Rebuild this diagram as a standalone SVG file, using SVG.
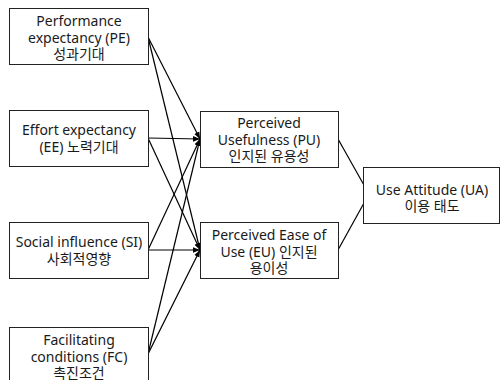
<svg xmlns="http://www.w3.org/2000/svg" width="500" height="380" viewBox="0 0 500 380">
<style>
.box{fill:#fff;stroke:#222;stroke-width:1}
.t{font-family:"Noto Sans","Noto Sans CJK KR",sans-serif;font-size:14px;fill:#1a1a1a;text-anchor:middle}
.c{stroke:#000;stroke-width:1.2;fill:none;marker-end:url(#ah)}
</style>
<defs>
<marker id="ah" markerWidth="8" markerHeight="8" refX="7" refY="4" orient="auto" markerUnits="userSpaceOnUse">
<path d="M0,1.2 L7,4 L0,6.8 Z" fill="#000"/>
</marker>
</defs>
<rect width="500" height="380" fill="#fff"/>
<g id="connectors">
<line class="c" x1="148" y1="37" x2="200" y2="139"/>
<line class="c" x1="148" y1="37" x2="200" y2="250"/>
<line class="c" x1="148" y1="138" x2="200" y2="139"/>
<line class="c" x1="148" y1="138" x2="200" y2="250"/>
<line class="c" x1="148" y1="250" x2="200" y2="139"/>
<line class="c" x1="148" y1="250" x2="200" y2="250"/>
<line class="c" x1="148" y1="354" x2="200" y2="139"/>
<line class="c" x1="148" y1="354" x2="200" y2="250"/>
<line class="c" x1="338" y1="139" x2="369" y2="194"/>
<line class="c" x1="338" y1="250" x2="369" y2="194"/>
</g>
<g id="PE">
<rect class="box" x="9.5" y="8.5" width="139" height="56"/>
<text class="t" x="79" y="26">Performance</text>
<text class="t" x="79" y="42.5">expectancy (PE)</text>
<text class="t" x="79" y="59">성과기대</text>
</g>
<g id="EE">
<rect class="box" x="9.5" y="110.5" width="139" height="56"/>
<text class="t" x="79" y="135">Effort expectancy</text>
<text class="t" x="79" y="152">(EE) 노력기대</text>
</g>
<g id="SI">
<rect class="box" x="9.5" y="222.5" width="139" height="56"/>
<text class="t" x="79" y="247">Social influence (SI)</text>
<text class="t" x="79" y="264">사회적영향</text>
</g>
<g id="FC">
<rect class="box" x="9.5" y="327.5" width="139" height="57"/>
<text class="t" x="79" y="345">Facilitating</text>
<text class="t" x="79" y="361.5">conditions (FC)</text>
<text class="t" x="79" y="378">촉진조건</text>
</g>
<g id="PU">
<rect class="box" x="200.5" y="111.5" width="138" height="56"/>
<text class="t" x="269" y="128">Perceived</text>
<text class="t" x="269" y="144.5">Usefulness (PU)</text>
<text class="t" x="269" y="161">인지된 유용성</text>
</g>
<g id="EU">
<rect class="box" x="200.5" y="222.5" width="138" height="56"/>
<text class="t" x="269" y="240">Perceived Ease of</text>
<text class="t" x="269" y="256.5">Use (EU) 인지된</text>
<text class="t" x="269" y="273">용이성</text>
</g>
<g id="UA">
<rect class="box" x="363.5" y="167.5" width="136" height="56"/>
<text class="t" x="432" y="195">Use Attitude (UA)</text>
<text class="t" x="432" y="211">이용 태도</text>
</g>
</svg>
